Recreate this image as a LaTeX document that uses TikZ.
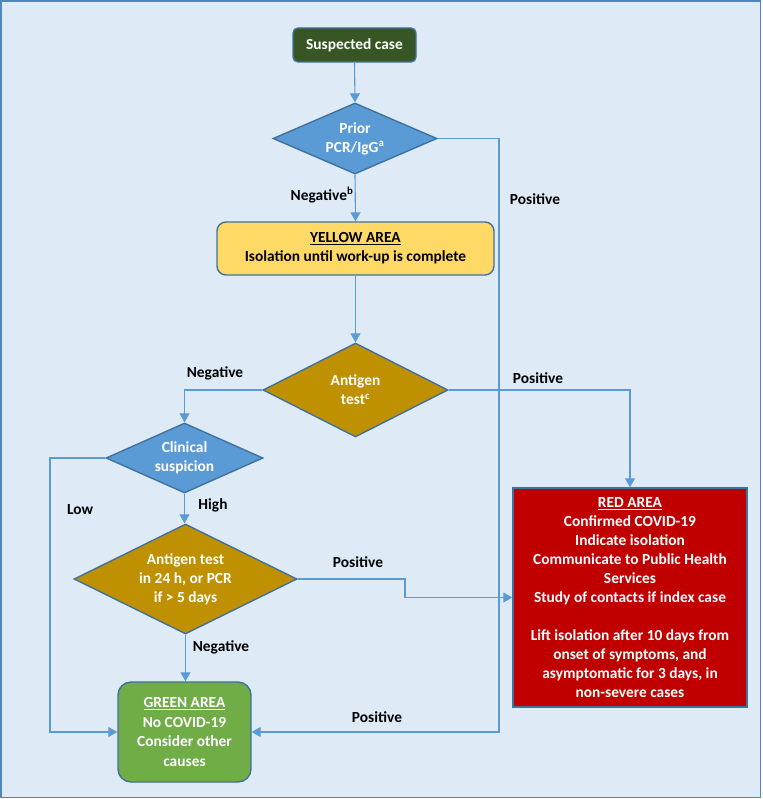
\documentclass[tikz,border=0pt]{standalone}
\usepackage{fontspec}
\setmainfont{Carlito}
\usetikzlibrary{shapes.geometric,arrows.meta}
\definecolor{bgc}{HTML}{DEEAF6}
\definecolor{framec}{HTML}{4F86C0}
\definecolor{edgec}{HTML}{41719C}
\definecolor{linec}{HTML}{5B9BD5}
\definecolor{dgreen}{HTML}{375623}
\definecolor{blued}{HTML}{5B9BD5}
\definecolor{goldd}{HTML}{BF9000}
\definecolor{yellowb}{HTML}{FFD966}
\definecolor{greenb}{HTML}{70AD47}
\definecolor{redb}{HTML}{C00000}
\tikzset{
  boxs/.style={draw=edgec, line width=1.4pt, inner sep=0pt, align=center},
  dias/.style={diamond, draw=edgec, line width=1.4pt, inner sep=0pt},
  wtext/.style={text=white, align=center, inner sep=0pt},
  lbl/.style={text=black, inner sep=0pt},
  conn/.style={draw=linec, line width=1.1pt, -{Triangle[width=10pt,length=9pt]}},
  plainconn/.style={draw=linec, line width=1.1pt}
}
\begin{document}
\begin{tikzpicture}[x=1pt,y=-1pt,font=\bfseries\fontsize{15.4}{19}\selectfont]
\path[use as bounding box] (0,0) rectangle (762,799);
\draw[fill=bgc, draw=framec, line width=1.5pt] (1,1) rectangle (760.5,797.5);

\node[boxs, fill=dgreen, text=white, minimum width=123pt, minimum height=34pt, rounded corners=5pt] (susp) at (354.5,45) {Suspected case};

\node[dias, fill=blued, minimum width=164pt, minimum height=71pt] (prior) at (355,138.5) {};
\node[wtext] (priort) at (prior.center) {Prior\\PCR/IgG\textsuperscript{a}};

\node[boxs, fill=yellowb, text=black, minimum width=277pt, minimum height=53pt, rounded corners=9pt] (yellow) at (355.5,248.5) {\underline{YELLOW AREA}\\Isolation until work-up is complete};

\node[dias, fill=goldd, minimum width=185pt, minimum height=94pt] (ant) at (355.5,390) {};
\node[wtext] (antt) at (ant.center) {Antigen\\test\textsuperscript{c}};

\node[dias, fill=blued, minimum width=157pt, minimum height=70pt] (clin) at (184.5,458) {};
\node[wtext] (clint) at (clin.center) {Clinical\\suspicion};

\node[dias, fill=goldd, minimum width=223pt, minimum height=110pt] (ant2) at (185.5,579) {};
\node[wtext] (ant2t) at (ant2.center) {Antigen test\\in 24 h, or PCR\\if > 5 days};

\node[boxs, fill=greenb, text=white, minimum width=133pt, minimum height=100pt, rounded corners=13pt, font=\bfseries\fontsize{15.4}{19.5}\selectfont] (green) at (184.5,732) {\underline{GREEN AREA}\\No COVID-19\\Consider other\\causes};

\node[boxs, fill=redb, text=white, minimum width=234pt, minimum height=219pt] (red) at (630,597.5) {\underline{RED AREA}\\Confirmed COVID-19\\Indicate isolation\\Communicate to Public Health\\Services\\Study of contacts if index case\\[19pt]Lift isolation after 10 days from\\onset of symptoms, and\\asymptomatic for 3 days, in\\non-severe cases};

\coordinate (rx) at (499,0);
\coordinate (lx) at (50,0);
\coordinate (mx) at (405,0);

\draw[conn] (susp.south) -- (prior.north);
\draw[conn] (prior.south) -- (yellow.north);
\draw[conn] (prior.east) -- (prior.east -| rx) -- (rx |- green.east) -- (green.east);
\draw[conn] (yellow.south) -- (ant.north);
\draw[conn] (ant.west) -| (clin.north);
\draw[conn] (ant.east) -| (red.north);
\draw[conn] (clin.west) -- (clin.west -| lx) -- (lx |- green.west) -- (green.west);
\draw[conn] (clin.south) -- (clin.south |- ant2.north);
\draw[conn] (ant2.east) -- (ant2.east -| mx) -- (mx |- red.west) -- (red.west);
\draw[conn] (ant2.south) -- (ant2.south |- green.north);

\node[lbl] (l1) at (322,195) {Negative\textsuperscript{b}};
\node[lbl] (l2) at (535,199) {Positive};
\node[lbl] (l3) at (215,373) {Negative};
\node[lbl] (l4) at (538,378) {Positive};
\node[lbl] (l5) at (80,510) {Low};
\node[lbl] (l6) at (213,505) {High};
\node[lbl] (l7) at (358,562) {Positive};
\node[lbl] (l8) at (221,647) {Negative};
\node[lbl] (l9) at (377,717) {Positive};
\end{tikzpicture}
\end{document}
